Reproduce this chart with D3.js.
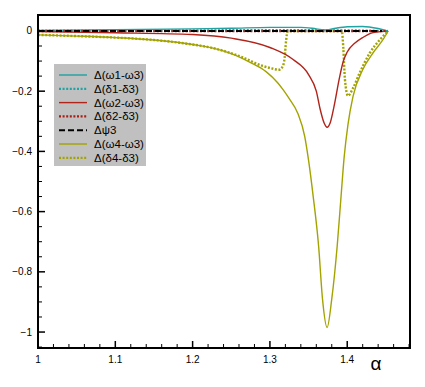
<!doctype html>
<html>
  <head>
    <meta charset="utf-8">
    <title>Delta curves</title>
    <script src="https://cdnjs.cloudflare.com/ajax/libs/d3/7.8.5/d3.min.js"></script>
    <style>
      body { margin: 0; background: #fff; }
      text { font-family: "Liberation Sans", Arial, Helvetica, sans-serif; }
    </style>
  </head>
  <body>
    <div id="chart"></div>
    <script>

      // --- data ---
      const legendLabels = ['Δ(ω1-ω3)', 'Δ(δ1-δ3)', 'Δ(ω2-ω3)', 'Δ(δ2-δ3)', 'Δψ3', 'Δ(ω4-ω3)', 'Δ(δ4-δ3)'];

      const xTicks = [1, 1.1, 1.2, 1.3, 1.4];
      const yTicks = [0, -0.2, -0.4, -0.6, -0.8, -1];

      // [alpha, value]
      const w1w3 = [[1, 0.002], [1.1, 0.004], [1.2, 0.007], [1.25, 0.009], [1.3, 0.012], [1.34, 0.012],
        [1.36, 0.007], [1.373, 0.003], [1.385, 0.009], [1.4, 0.014], [1.42, 0.015], [1.44, 0.008], [1.452, 0]];
      const d1d3 = [[1, 0.001], [1.2, 0.002], [1.3, 0.003], [1.4, 0.002], [1.452, 0]];
      const w2w3 = [[1, -0.002], [1.1, -0.006], [1.2, -0.012], [1.25, -0.024], [1.3, -0.055], [1.33, -0.095],
        [1.35, -0.145], [1.36, -0.2], [1.365, -0.26], [1.37, -0.305], [1.374, -0.32], [1.378, -0.305],
        [1.383, -0.25], [1.39, -0.155], [1.395, -0.1], [1.4, -0.07], [1.41, -0.04], [1.42, -0.022],
        [1.43, -0.008], [1.44, -0.003], [1.452, 0]];
      const d2d3 = [[1, -0.001], [1.2, -0.001], [1.4, -0.001], [1.452, 0]];
      const psi3 = [[1, 0], [1.2, 0], [1.4, 0], [1.445, 0]];
      const w4w3 = [[1, -0.013], [1.05, -0.017], [1.1, -0.022], [1.15, -0.03], [1.2, -0.045], [1.225, -0.056],
        [1.25, -0.075], [1.275, -0.105], [1.295, -0.135], [1.31, -0.172], [1.317, -0.195], [1.325, -0.225],
        [1.336, -0.273], [1.345, -0.35], [1.35, -0.43], [1.356, -0.55], [1.363, -0.715], [1.368, -0.89],
        [1.374, -0.985], [1.38, -0.89], [1.387, -0.715], [1.392, -0.55], [1.396, -0.42], [1.401, -0.31],
        [1.4075, -0.217], [1.42, -0.129], [1.433, -0.074], [1.446, -0.03], [1.453, 0]];
      const d4d3 = [[1, -0.013], [1.05, -0.017], [1.1, -0.022], [1.15, -0.03], [1.2, -0.045], [1.225, -0.056],
        [1.25, -0.074], [1.265, -0.088], [1.287, -0.113], [1.305, -0.126], [1.311, -0.129], [1.316, -0.12],
        [1.319, -0.09], [1.321, -0.03], [1.323, 0], [1.393, 0], [1.395, -0.06], [1.397, -0.16],
        [1.401, -0.215], [1.4075, -0.19], [1.416, -0.14], [1.429, -0.074], [1.442, -0.03], [1.453, 0]];

      const seriesData = [w1w3, d1d3, w2w3, d2d3, psi3, w4w3, d4d3];

      // --- styles ---
      const colors = ['#1fa3a3', '#1fa3a3', '#b0241a', '#a81e14', '#000000', '#a3a300', '#a3a300'];
      const dashes = [null, '2 1.6', null, '2 1.6', '6 3', null, '2 1.6'];
      const widths = [1.4, 2.2, 1.4, 2.2, 2, 1.4, 2.4];

      const W = 425, H = 387;
      const mLeft = 38, mRight = 410, mTop = 15, mBottom = 348;

      const x = d3.scaleLinear().domain([1, 1.4812]).range([mLeft, mRight]);
      const y = d3.scaleLinear().domain([-1.053, 0.053]).range([mBottom, mTop]);

      const svg = d3.select('#chart').append('svg')
        .attr('width', W)
        .attr('height', H);

      svg.append('clipPath').attr('id', 'plotclip')
        .append('rect')
        .attr('x', mLeft).attr('y', mTop)
        .attr('width', mRight - mLeft).attr('height', mBottom - mTop);

      const line = d3.line()
        .x(d => x(d[0]))
        .y(d => y(d[1]))
        .curve(d3.curveMonotoneX);

      const plot = svg.append('g').attr('clip-path', 'url(#plotclip)');

      // draw bottom series first so the near-zero ones sit on top like the picture
      const order = [5, 6, 2, 0, 1, 3, 4];
      order.forEach(i => {
        plot.append('path')
          .datum(seriesData[i])
          .attr('d', line)
          .attr('fill', 'none')
          .attr('stroke', colors[i])
          .attr('stroke-width', widths[i])
          .attr('stroke-dasharray', dashes[i]);
      });

      // ticks (inward)
      const axisG = svg.append('g').attr('stroke', '#000');
      const xMinor = d3.range(1, 1.481, 0.02);
      xMinor.forEach(v => {
        const major = xTicks.some(t => Math.abs(t - v) < 1e-6);
        axisG.append('line')
          .attr('x1', x(v)).attr('x2', x(v))
          .attr('y1', mBottom).attr('y2', mBottom - (major ? 7 : 4))
          .attr('stroke-width', major ? 1.5 : 1);
      });
      const yMinor = d3.range(0, -1.051, -0.05);
      yMinor.forEach(v => {
        const major = yTicks.some(t => Math.abs(t - v) < 1e-6);
        axisG.append('line')
          .attr('x1', mLeft).attr('x2', mLeft + (major ? 7 : 4))
          .attr('y1', y(v)).attr('y2', y(v))
          .attr('stroke-width', major ? 1.5 : 1);
      });

      // frame
      svg.append('rect')
        .attr('x', mLeft).attr('y', mTop)
        .attr('width', mRight - mLeft).attr('height', mBottom - mTop)
        .attr('fill', 'none')
        .attr('stroke', '#000')
        .attr('stroke-width', 2);

      // tick labels
      svg.append('g').selectAll('text')
        .data(xTicks)
        .join('text')
        .attr('x', d => x(d))
        .attr('y', 363)
        .attr('text-anchor', 'middle')
        .attr('font-size', 10)
        .text(d => d3.format('')(d));

      svg.append('g').selectAll('text')
        .data(yTicks)
        .join('text')
        .attr('x', 32)
        .attr('y', d => y(d) + 3.5)
        .attr('text-anchor', 'end')
        .attr('font-size', 10)
        .text(d => d === 0 ? '0' : d3.format('')(d));

      svg.append('text')
        .attr('x', 376)
        .attr('y', 370)
        .attr('text-anchor', 'middle')
        .attr('font-size', 19)
        .text('α');

      // legend
      const legend = svg.append('g');
      legend.append('rect')
        .attr('x', 54).attr('y', 64)
        .attr('width', 92).attr('height', 102)
        .attr('fill', '#c0c0c0');

      legendLabels.forEach((lab, i) => {
        const ly = 75 + i * 13.8;
        legend.append('line')
          .attr('x1', 59).attr('x2', 87)
          .attr('y1', ly).attr('y2', ly)
          .attr('stroke', colors[i])
          .attr('stroke-width', dashes[i] && i !== 4 ? 2.2 : (i === 4 ? 2 : 1.4))
          .attr('stroke-dasharray', dashes[i]);
        legend.append('text')
          .attr('x', 94)
          .attr('y', ly + 4)
          .attr('font-size', 11.5)
          .text(lab);
      });

    </script>
  </body>
</html>
